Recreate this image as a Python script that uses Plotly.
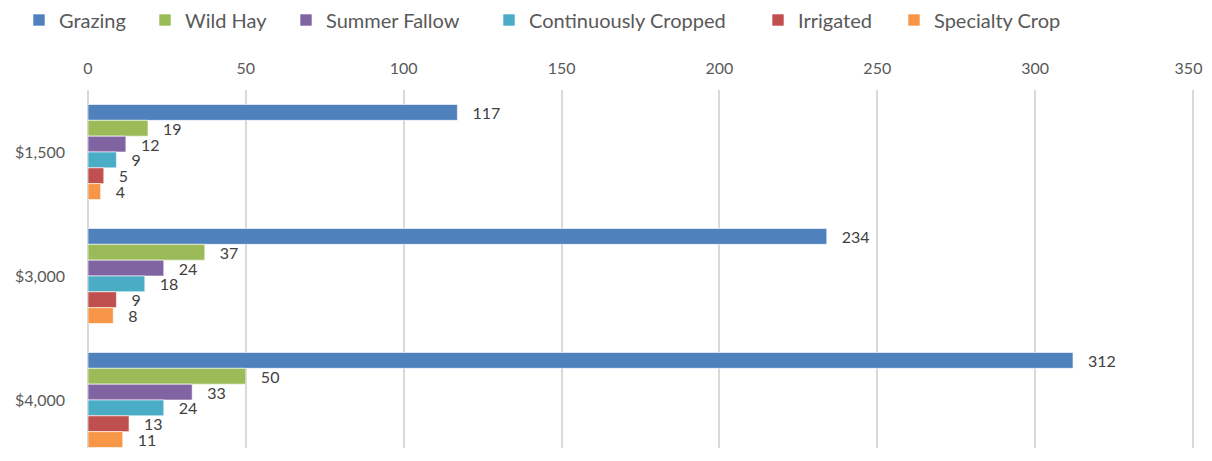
import plotly.graph_objects as go

categories = ["$1,500", "$3,000", "$4,000"]
series_names = ["Grazing", "Wild Hay", "Summer Fallow", "Continuously Cropped", "Irrigated", "Specialty Crop"]
grazing = [117, 234, 312]
wild_hay = [19, 37, 50]
summer_fallow = [12, 24, 33]
continuously_cropped = [9, 18, 24]
irrigated = [5, 9, 13]
specialty_crop = [4, 8, 11]
colors = ["#4F81BD", "#9BBB59", "#8064A2", "#4BACC6", "#C0504D", "#F79646"]
x_ticks = [0, 50, 100, 150, 200, 250, 300, 350]
x_tick_labels = ["0", "50", "100", "150", "200", "250", "300", "350\u2002\u200a"]

values = [grazing, wild_hay, summer_fallow, continuously_cropped, irrigated, specialty_crop]
FONT = "Lato, 'Open Sans', sans-serif"

OFF = 8                    # page body margin
W, H = 1204, 440           # figure fits inside the page without scrolling
PLOT_TOP, PLOT_LEFT, PLOT_RIGHT = 90, 88, 1193   # screen px (0 and 350 positions)
EXTRA = 3                  # px of plot beyond 350 so its gridline is drawn
BAND = 124                 # px per category band in the reference
plot_h = (OFF + H) - PLOT_TOP
y_bottom = -0.5 + plot_h / BAND
x_max = 350 * (PLOT_RIGHT + EXTRA - PLOT_LEFT) / (PLOT_RIGHT - PLOT_LEFT)

# screen x of each legend square's left edge (reference)
legend_sq_left = [37, 163, 304, 507, 776, 912]

fig = go.Figure()
layout_legends = {}
for i, (name, vals, col) in enumerate(zip(series_names, values, colors)):
    key = "legend" if i == 0 else f"legend{i+1}"
    fig.add_trace(go.Bar(
        y=categories, x=vals, name=name, orientation="h",
        marker=dict(color=col, line=dict(color="white", width=0.6)),
        text=[str(v) for v in vals], texttemplate="\u2002\u2005%{text}",
        textposition="outside", constraintext="none",
        textfont=dict(size=16, color="#404040", family=FONT),
        cliponaxis=False, legend=key,
    ))
    lx = (legend_sq_left[i] - 4 - 14 - OFF) / W
    layout_legends[key] = dict(
        x=lx, xref="container", xanchor="left",
        y=1 - (20 - OFF) / H, yref="container", yanchor="middle",
        orientation="h", bgcolor="rgba(0,0,0,0)", borderwidth=0,
        font=dict(size=20, color="#595959", family=FONT),
    )

fig.update_layout(
    width=W, height=H,
    margin=dict(l=PLOT_LEFT - OFF, r=OFF + W - PLOT_RIGHT - EXTRA, t=PLOT_TOP - OFF, b=0),
    paper_bgcolor="white", plot_bgcolor="white",
    barmode="group", bargap=0.234, bargroupgap=0,
    font=dict(family=FONT, color="#595959"),
    showlegend=True,
    **layout_legends,
)
fig.update_xaxes(side="top", range=[0, x_max], tickvals=x_ticks, ticktext=x_tick_labels,
                 showgrid=True, gridcolor="#D9D9D9", gridwidth=2,
                 zeroline=True, zerolinecolor="#D9D9D9", zerolinewidth=2,
                 showline=False, ticks="", ticklabelstandoff=12,
                 ticklabeloverflow="allow",
                 tickfont=dict(size=16, color="#595959", family=FONT))
fig.update_yaxes(range=[y_bottom, -0.5], showgrid=False, showline=False, ticks="",
                 ticklabelstandoff=22,
                 tickfont=dict(size=16, color="#595959", family=FONT))

fig.write_html("out.html")
